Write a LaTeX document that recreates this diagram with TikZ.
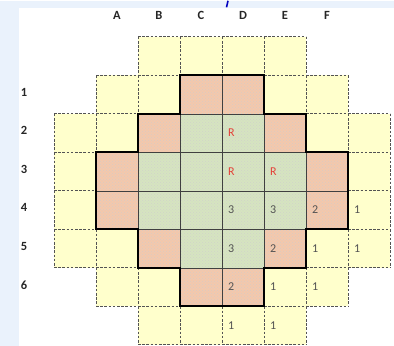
\documentclass[tikz,border=0pt]{standalone}
\usepackage{fontspec}
\setmainfont{Carlito}
\usepackage{tikz}
\usetikzlibrary{patterns, positioning}
\definecolor{slideblue}{RGB}{234, 242, 252}
\definecolor{cellyellow}{RGB}{255, 255, 204}
\definecolor{cellorange}{RGB}{244, 200, 172}
\definecolor{cellgreen}{RGB}{214, 228, 192}
\definecolor{markred}{RGB}{228, 64, 56}
\definecolor{gridgray}{RGB}{64, 64, 64}

\begin{document}
\begin{tikzpicture}[x=1pt, y=-1pt,
  cell/.style={rectangle, minimum width=42pt, minimum height=38.5pt, inner xsep=6pt, outer sep=0pt,
    text width=30pt, align=left, font=\fontsize{12}{14}\selectfont, text=gridgray!90},
  outer/.style={cell, fill=cellyellow},
  dashline/.style={draw=gridgray!90, dash pattern=on 2.6pt off 1.6pt, line width=0.9pt},
  ring/.style={cell, preaction={fill=cellorange}, pattern=crosshatch dots, pattern color=cellorange!70!black!45, draw=gridgray, line width=0.6pt},
  core/.style={cell, preaction={fill=cellgreen}, pattern=crosshatch dots, pattern color=cellgreen!70!black!45, draw=gridgray, line width=0.6pt},
  hdr/.style={font=\fontsize{12.5}{14}\selectfont\bfseries, text=black!85}]
\fill[slideblue] (0,0) rectangle (394,345);
\fill[white] (19,7) rectangle (394,345);
\draw[blue!75!black, line width=1.6pt] (228,0) -- (226.5,6.5);
% column and row headers
\foreach \c/\l in {1/A,2/B,3/C,4/D,5/E,6/F}
  \node[hdr] (col\l) at ({75+42*\c},15) {\l};
\foreach \r in {1,...,6}
  \node[hdr] (row\r) at (24,{53+38.5*\r}) {\r};
% yellow cells
\foreach \r/\c/\t in {0/2/{},0/3/{},0/4/{},0/5/{},1/1/{},1/2/{},1/5/{},1/6/{},
    2/0/{},2/1/{},2/6/{},2/7/{},3/0/{},3/7/{},4/0/{},4/7/1,
    5/0/{},5/1/{},5/6/1,5/7/1,6/1/{},6/2/{},6/5/1,6/6/1,7/2/{},7/3/{},7/4/1,7/5/1}
{
  \node[outer] (c\r-\c) at ({75+42*\c},{55.25+38.5*\r}) {\t};
  \draw[dashline] (c\r-\c.north west) -- (c\r-\c.north east)
    (c\r-\c.south west) -- (c\r-\c.south east)
    (c\r-\c.north west) -- (c\r-\c.south west)
    (c\r-\c.north east) -- (c\r-\c.south east);
}
% orange cells
\foreach \r/\c/\t in {1/3/{},1/4/{},2/2/{},2/5/{},3/1/{},3/6/{},4/1/{},4/6/2,
    5/2/{},5/5/2,6/3/{},6/4/2}
  \node[ring] (c\r-\c) at ({75+42*\c},{55.25+38.5*\r}) {\t};
% green cells
\foreach \r/\c/\t in {2/3/{},2/4/{\textcolor{markred}{R}},3/2/{},3/3/{},3/4/{\textcolor{markred}{R}},
    3/5/{\textcolor{markred}{R}},4/2/{},4/3/{},4/4/3,4/5/3,5/3/{},5/4/3}
  \node[core] (c\r-\c) at ({75+42*\c},{55.25+38.5*\r}) {\t};
% outline of the inner zone
\draw[black, line width=1.7pt, line join=miter]
  (c1-3.north west) -- (c1-4.north east) -- (c1-4.south east) -- (c2-5.north east)
  -- (c2-5.south east) -- (c3-6.north east) -- (c4-6.south east) -- (c4-6.south west)
  -- (c5-5.south east) -- (c5-5.south west) -- (c6-4.south east) -- (c6-3.south west)
  -- (c6-3.north west) -- (c5-2.south west) -- (c5-2.north west) -- (c4-1.south west)
  -- (c3-1.north west) -- (c2-2.south west) -- (c2-2.north west)
  -- (c1-3.south west) -- cycle;
\end{tikzpicture}
\end{document}
